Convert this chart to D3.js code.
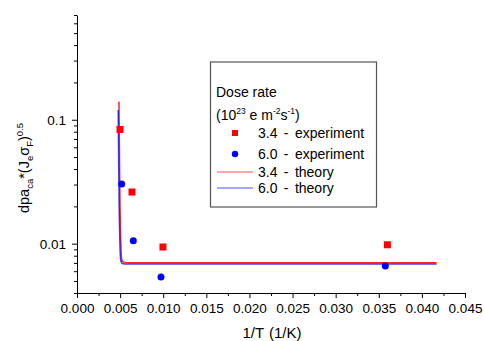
<!DOCTYPE html>
<html>
<head>
<meta charset="utf-8">
<script src="https://cdn.jsdelivr.net/npm/d3@7"></script>
<style>
  body { margin: 0; background: #fff; }
  svg { display: block; font-family: "Liberation Sans", Arial, sans-serif; }
</style>
</head>
<body>
<svg id="chart" width="484" height="341"></svg>
<script>
/* ── Data ─────────────────────────────────────────────── */

// experiment, dose rate 3.4
const exp34X = [0.00499, 0.00638, 0.00997, 0.0360];
const exp34Y = [0.0835, 0.0261, 0.0094, 0.0098];

// experiment, dose rate 6.0
const exp60X = [0.00518, 0.00653, 0.00974, 0.03576];
const exp60Y = [0.0303, 0.01057, 0.00538, 0.0066];

// theory curves
const th34X = [0.00487, 0.00490, 0.00494, 0.00499, 0.00505, 0.00512, 0.0052, 0.0054, 0.0060, 0.0417];
const th34Y = [0.14, 0.08, 0.04, 0.02, 0.012, 0.0085, 0.0074, 0.0071, 0.00703, 0.00702];
const th60X = [0.00478, 0.00481, 0.00485, 0.00490, 0.00496, 0.00503, 0.0051, 0.0053, 0.0060, 0.0417];
const th60Y = [0.12, 0.07, 0.035, 0.018, 0.011, 0.008, 0.0072, 0.0069, 0.00685, 0.00684];

const xTicks = d3.range(0, 19).map(i => +(i * 0.0025).toFixed(4));
const xLabels = ['0.000', '0.005', '0.010', '0.015', '0.020', '0.025', '0.030', '0.035', '0.040', '0.045'];
const yMajor = [0.01, 0.1];
const yLabels = ['0.01', '0.1'];
const yMinor = [0.004, 0.005, 0.006, 0.007, 0.008, 0.009,
                0.02, 0.03, 0.04, 0.05, 0.06, 0.07, 0.08, 0.09,
                0.2, 0.3, 0.4, 0.5, 0.6, 0.7];

/* ── Setup ────────────────────────────────────────────── */

const svg = d3.select('#chart');
const plot = { left: 77, right: 465, top: 15, bottom: 293 };

const x = d3.scaleLinear().domain([0, 0.045]).range([plot.left, plot.right]);
const y = d3.scaleLog().domain([0.004, 0.7]).range([plot.bottom, plot.top]);

const RED = '#ff0000';
const BLUE = '#0000ff';

/* ── Axes ─────────────────────────────────────────────── */

const xAxis = svg.append('g').attr('transform', `translate(0,${plot.bottom})`);
xAxis.call(d3.axisBottom(x).tickValues(xTicks).tickSizeOuter(0)
  .tickSize(3).tickFormat(() => ''));
xAxis.selectAll('.tick line')
  .attr('y2', (d, i) => i % 2 === 0 ? 5 : 3);
xAxis.selectAll('.tick text')
  .text((d, i) => i % 2 === 0 ? xLabels[i / 2] : '')
  .attr('y', 10)
  .attr('font-size', 13.5)
  .attr('fill', '#000');
xAxis.select('.domain').attr('stroke', '#000');

const yAxis = svg.append('g').attr('transform', `translate(${plot.left},0)`);
yAxis.call(d3.axisLeft(y).tickValues(yMinor).tickSize(3).tickSizeOuter(0).tickFormat(() => ''));
yAxis.select('.domain').attr('stroke', '#000');
const yMaj = svg.append('g').attr('transform', `translate(${plot.left},0)`);
yMaj.call(d3.axisLeft(y).tickValues(yMajor).tickSize(5).tickFormat((d, i) => yLabels[i]));
yMaj.select('.domain').remove();
yMaj.selectAll('.tick text').attr('font-size', 13.5).attr('fill', '#000').attr('x', -11);

svg.append('text')
  .attr('x', 272)
  .attr('y', 338)
  .attr('text-anchor', 'middle')
  .attr('font-size', 15)
  .attr('word-spacing', 1)
  .text('1/T (1/K)');

const yTitle = svg.append('text')
  .attr('transform', 'translate(29,168) rotate(-90)')
  .attr('text-anchor', 'middle')
  .attr('font-size', 14.5);
yTitle.append('tspan').text('dpa');
yTitle.append('tspan').attr('font-size', 9.5).attr('dy', 4).text('ca');
yTitle.append('tspan').attr('dy', -4).text('*(J');
yTitle.append('tspan').attr('font-size', 9.5).attr('dy', 4).text('e');
yTitle.append('tspan').attr('dy', -4).text('σ');
yTitle.append('tspan').attr('font-size', 9.5).attr('dy', 4).text('F');
yTitle.append('tspan').attr('dy', -4).text(')');
yTitle.append('tspan').attr('font-size', 9.5).attr('dy', -6).text('0.5');

/* ── Theory lines ─────────────────────────────────────── */

const line = d3.line().x(d => x(d[0])).y(d => y(d[1])).curve(d3.curveMonotoneX);

svg.append('path')
  .datum(th34X.map((v, i) => [v, th34Y[i]]))
  .attr('d', line)
  .attr('fill', 'none')
  .attr('stroke', RED)
  .attr('stroke-width', 1.5)
  .attr('stroke-opacity', 0.85);

svg.append('path')
  .datum(th60X.map((v, i) => [v, th60Y[i]]))
  .attr('d', line)
  .attr('fill', 'none')
  .attr('stroke', BLUE)
  .attr('stroke-width', 1.5)
  .attr('stroke-opacity', 0.75);

/* ── Experimental points ──────────────────────────────── */

svg.append('g').selectAll('rect')
  .data(exp34X.map((v, i) => [v, exp34Y[i]]))
  .join('rect')
  .attr('x', d => x(d[0]) - 3.5)
  .attr('y', d => y(d[1]) - 3.5)
  .attr('width', 7)
  .attr('height', 7)
  .attr('fill', RED);

svg.append('g').selectAll('circle')
  .data(exp60X.map((v, i) => [v, exp60Y[i]]))
  .join('circle')
  .attr('cx', d => x(d[0]))
  .attr('cy', d => y(d[1]))
  .attr('r', 3.5)
  .attr('fill', BLUE);

/* ── Legend ───────────────────────────────────────────── */

const lg = svg.append('g');
lg.append('rect')
  .attr('x', 210.5).attr('y', 62)
  .attr('width', 166).attr('height', 145)
  .attr('fill', '#fff')
  .attr('stroke', '#555')
  .attr('stroke-width', 1.2);

lg.append('text').attr('x', 216).attr('y', 97).attr('font-size', 14).text('Dose rate');
const unit = lg.append('text').attr('x', 216).attr('y', 120).attr('font-size', 14);
unit.append('tspan').text('(10');
unit.append('tspan').attr('font-size', 8.5).attr('dy', -6).text('23');
unit.append('tspan').attr('dy', 6).text(' e m');
unit.append('tspan').attr('font-size', 8.5).attr('dy', -6).text('-2');
unit.append('tspan').attr('dy', 6).text('s');
unit.append('tspan').attr('font-size', 8.5).attr('dy', -6).text('-1');
unit.append('tspan').attr('dy', 6).text(')');

const entries = [
  { label: '3.4 - experiment', kind: 'square', color: RED, y: 138 },
  { label: '6.0 - experiment', kind: 'circle', color: BLUE, y: 159 },
  { label: '3.4 - theory', kind: 'line', color: RED, y: 177 },
  { label: '6.0 - theory', kind: 'line', color: BLUE, y: 193 },
];

entries.forEach(e => {
  const cy = e.y - 5;
  if (e.kind === 'square') {
    lg.append('rect').attr('x', 232).attr('y', cy - 3).attr('width', 6).attr('height', 6).attr('fill', e.color);
  } else if (e.kind === 'circle') {
    lg.append('circle').attr('cx', 235).attr('cy', cy).attr('r', 3.2).attr('fill', e.color);
  } else {
    lg.append('line').attr('x1', 217).attr('x2', 253).attr('y1', cy).attr('y2', cy)
      .attr('stroke', e.color).attr('stroke-width', 1).attr('stroke-opacity', 0.7);
  }
  lg.append('text').attr('x', 258).attr('y', e.y).attr('font-size', 14)
    .attr('word-spacing', 2.5).text(e.label);
});
</script>
</body>
</html>
